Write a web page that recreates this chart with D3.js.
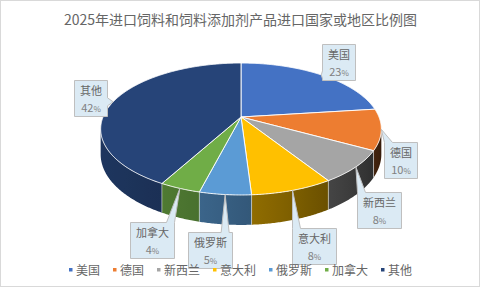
<!DOCTYPE html>
<html>
<head>
<meta charset="utf-8">
<script src="https://cdn.jsdelivr.net/npm/d3@7"></script>
<style>
  body { margin: 0; background: #fff; }
  text { font-family: "Noto Sans CJK SC", "Noto Sans", sans-serif; }
</style>
</head>
<body>
<div id="chart"></div>
<script>
// data
const categories = ["美国", "德国", "新西兰", "意大利", "俄罗斯", "加拿大", "其他"];
const values = [23, 10, 8, 8, 5, 4, 42];
const palette = ["#4472C4", "#ED7D31", "#A5A5A5", "#FFC000", "#5B9BD5", "#70AD47", "#264478"];
const title = "2025年进口饲料和饲料添加剂产品进口国家或地区比例图";

// callout offsets from the slice anchor (box left/top)
const labelOffsets = [[1, -31], [3, 13], [1, 25], [-1, 38], [-37, 37], [-50, 34], [-39, -22]];

function makeChart() {
  let W = 481, H = 289;
  let svg = d3.select("#chart").append("svg")
    .attr("width", W).attr("height", H);
  let defs = svg.append("defs");

  svg.append("rect")
    .attr("x", 0.5).attr("y", 0.5)
    .attr("width", 479).attr("height", 286)
    .attr("fill", "#fff").attr("stroke", "#d9d9d9");

  svg.append("text")
    .attr("x", 240.5).attr("y", 25)
    .attr("text-anchor", "middle")
    .attr("font-size", 14)
    .attr("fill", "#666")
    .text(title);

  let color = d3.scaleOrdinal().domain(categories).range(palette);

  // 3d perspective projection of the pie disc
  let x0 = 241, y0 = 117, A = 138, B = 63.8, k = 0.1818, depth = 24.5;
  function proj(t, h) {
    let u = Math.sin(t), v = -Math.cos(t), w = 1 - k * v;
    return [x0 + A * u / w, y0 + (B * v + h) / w];
  }

  let data = categories.map((c, i) => ({ name: c, value: values[i] }));
  let arcs = d3.pie().sort(null).value(d => d.value)(data);
  let total = d3.sum(values);
  let line = d3.line();
  let step = Math.PI / 180;

  function shade(c, t) {
    let f = 0.48 + 0.3 * Math.cos(t - 250 * Math.PI / 180);
    let r = d3.rgb(c);
    return d3.rgb(r.r * f, r.g * f, r.b * f);
  }

  // side walls (front part only), one path per slice with a shading gradient
  let lo = 100 * Math.PI / 180, hi = 260 * Math.PI / 180;
  let sides = svg.append("g");
  arcs.forEach((a, i) => {
    let s = Math.max(a.startAngle, lo), e = Math.min(a.endAngle, hi);
    if (e <= s) return;
    let ts = d3.range(s, e, step / 2).concat([e]);
    let topPts = ts.map(t => proj(t, 0));
    let botPts = ts.map(t => proj(t, depth)).reverse();
    let xa = topPts[0][0], xb = topPts[topPts.length - 1][0];
    let g = defs.append("linearGradient")
      .attr("id", "side" + i)
      .attr("gradientUnits", "userSpaceOnUse")
      .attr("x1", xa).attr("y1", 0).attr("x2", xb).attr("y2", 0);
    let n = 8;
    d3.range(n + 1).forEach(j => {
      let t = s + (e - s) * j / n;
      let xt = proj(t, 0)[0];
      let off = xb === xa ? 0 : (xt - xa) / (xb - xa);
      g.append("stop").attr("offset", off).attr("stop-color", shade(color(a.data.name), t));
    });
    sides.append("path")
      .attr("d", line(topPts.concat(botPts)) + "Z")
      .attr("fill", "url(#side" + i + ")");
  });
  arcs.forEach(a => {
    let t = a.startAngle;
    if (t > lo && t < hi) {
      sides.append("path")
        .attr("d", line([proj(t, 0), proj(t, depth)]))
        .attr("stroke", "rgba(255,255,255,0.6)").attr("stroke-width", 0.8);
    }
  });

  // top faces
  svg.append("g").selectAll("path")
    .data(arcs)
    .enter()
    .append("path")
    .attr("d", a => {
      let pts = [[x0, y0]];
      for (let t = a.startAngle; t < a.endAngle; t += step / 2) pts.push(proj(t, 0));
      pts.push(proj(a.endAngle, 0));
      return line(pts) + "Z";
    })
    .attr("fill", a => color(a.data.name))
    .attr("stroke", "#fff")
    .attr("stroke-width", 0.9)
    .attr("stroke-linejoin", "round");

  // callout labels
  function callout(x, y, w, h, tx, ty) {
    let dx = tx < x ? x - tx : (tx > x + w ? tx - x - w : 0);
    let dy = ty < y ? y - ty : (ty > y + h ? ty - y - h : 0);
    let b = 8, side;
    if (dy >= dx) side = ty < y ? "top" : "bottom";
    else side = tx < x ? "left" : "right";
    let px = Math.max(x, Math.min(tx - b / 2, x + w - b));
    let py = Math.max(y, Math.min(ty - b / 2, y + h - b));
    let p = [[x, y]];
    if (side === "top") p.push([px, y], [tx, ty], [px + b, y]);
    p.push([x + w, y]);
    if (side === "right") p.push([x + w, py], [tx, ty], [x + w, py + b]);
    p.push([x + w, y + h]);
    if (side === "bottom") p.push([px + b, y + h], [tx, ty], [px, y + h]);
    p.push([x, y + h]);
    if (side === "left") p.push([x, py + b], [tx, ty], [x, py]);
    return line(p) + "Z";
  }

  let labels = svg.append("g");
  arcs.forEach((a, i) => {
    let mid = (a.startAngle + a.endAngle) / 2;
    let anchor = proj(mid, 0);
    let n = a.data.name.length;
    let bw = 11 * n + 11, bh = 36;
    let bx = Math.round(anchor[0] + labelOffsets[i][0]) + 0.5;
    let by = Math.round(anchor[1] + labelOffsets[i][1]) + 0.5;
    labels.append("path")
      .attr("d", callout(bx, by, bw, bh, anchor[0], anchor[1]))
      .attr("fill", "#dbeaf4").attr("stroke", "#bfbfbf").attr("stroke-width", 1);
    labels.append("text")
      .attr("x", bx + bw / 2).attr("y", by + 14)
      .attr("text-anchor", "middle").attr("font-size", 11)
      .attr("fill", "#666")
      .text(a.data.name);
    let pt = labels.append("text")
      .attr("x", bx + bw / 2).attr("y", by + 31)
      .attr("text-anchor", "middle").attr("font-size", 11)
      .attr("fill", "#808080");
    pt.append("tspan").text(Math.round(a.data.value / total * 100));
    pt.append("tspan").attr("font-size", 8).text("%");
  });

  // legend
  let widths = categories.map(c => 4 + 3 + 12 * c.length + 13);
  let totalW = d3.sum(widths) - 13;
  let lx = 240.5 - totalW / 2;
  let legend = svg.append("g");
  categories.forEach((c, i) => {
    legend.append("rect")
      .attr("x", lx).attr("y", 268)
      .attr("width", 3.5).attr("height", 3.5)
      .attr("fill", color(c));
    legend.append("text")
      .attr("x", lx + 7).attr("y", 274.5)
      .attr("font-size", 12).attr("fill", "#666")
      .text(c);
    lx += widths[i];
  });
}

makeChart();
</script>
</body>
</html>
